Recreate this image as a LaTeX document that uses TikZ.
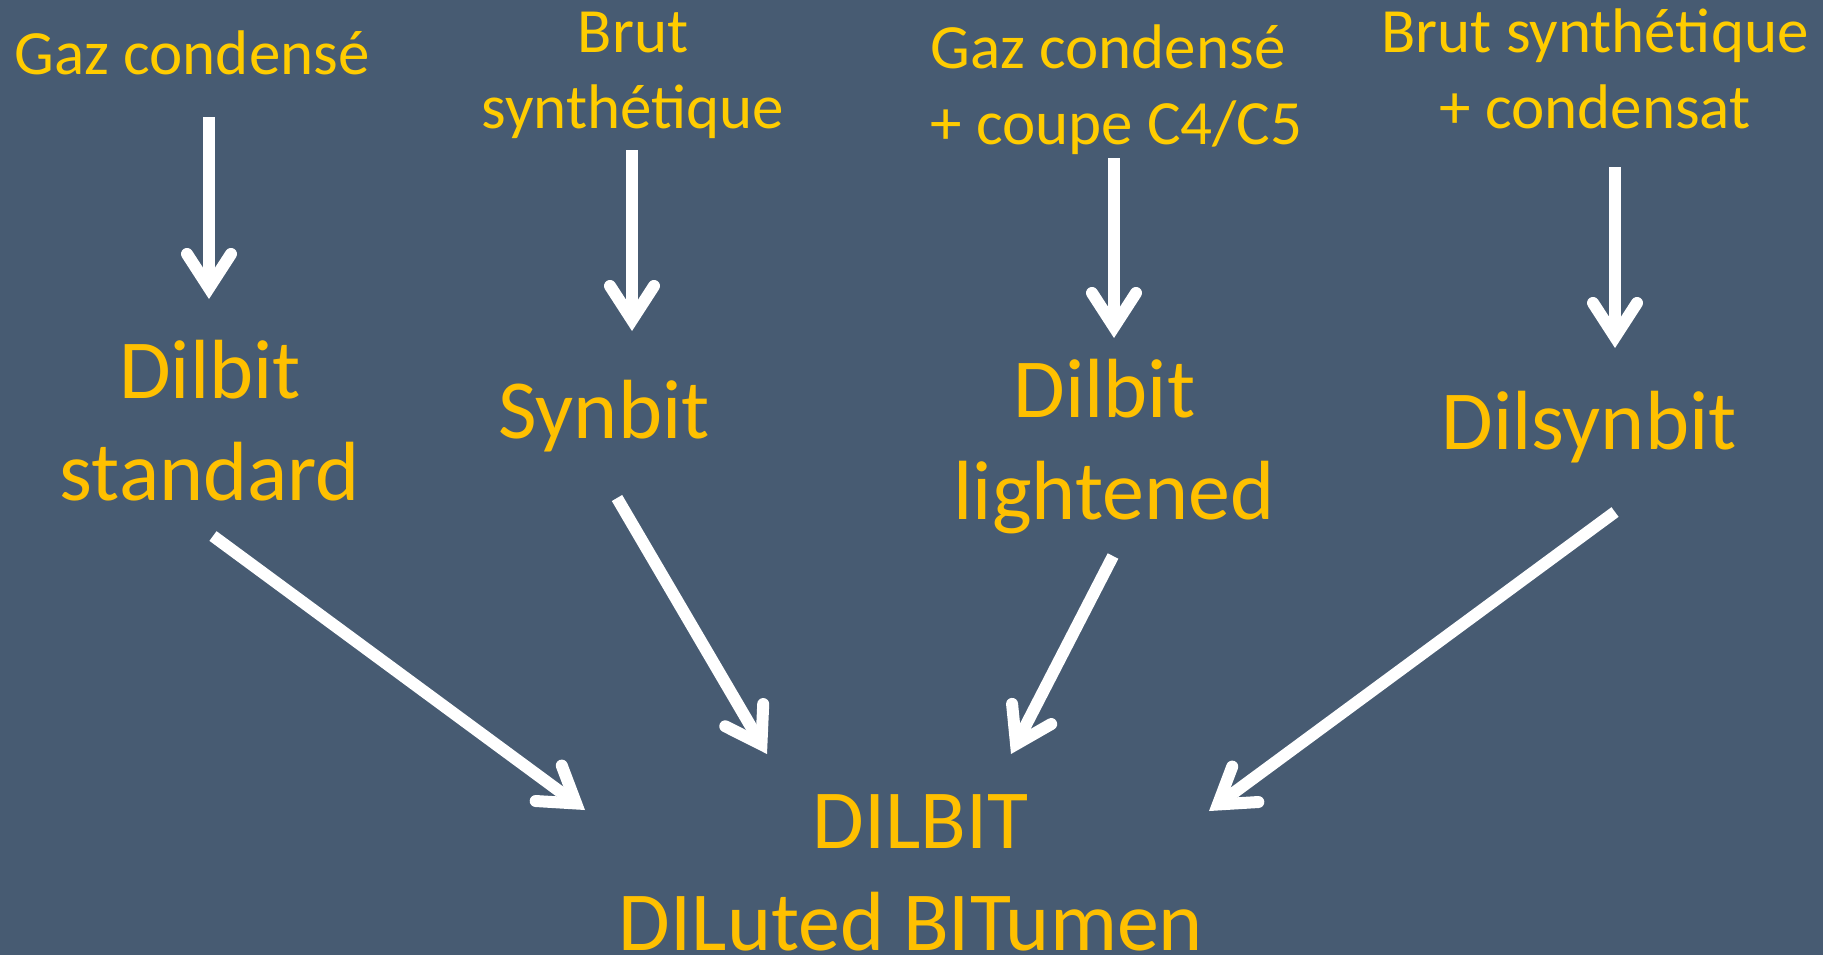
\documentclass[tikz,border=0pt]{standalone}
\usepackage{fontspec}
\setmainfont{Carlito}
\usetikzlibrary{arrows.meta}
\definecolor{slate}{HTML}{475B72}
\definecolor{goldA}{HTML}{FFC000}
\definecolor{goldB}{HTML}{FFCC00}
% stacked lines whose baseline is the first line's baseline
\newcommand\txtlines[2][c]{\begin{tabular}[t]{@{}#1@{}}#2\end{tabular}}
\begin{document}
\begin{tikzpicture}[x=0.5pt,y=-0.5pt,
  src/.style={inner sep=0pt, text=goldB, anchor=base,
    font={\fontsize{31.5pt}{38pt}\selectfont}},
  prod/.style={inner sep=0pt, text=goldA, anchor=base,
    font={\fontsize{42pt}{51pt}\selectfont}},
  flow/.style={draw=white, line width=6pt,
    -{Straight Barb[length=17pt,width=22pt,line cap=round,line join=miter]}}]
\fill[slate] (0,0) rectangle (1823,955);
\useasboundingbox (0,0) rectangle (1823,955);

% feedstocks
\node[src] (gc1) at (192,74) {Gaz condensé};
\node[src] (bs1) at (633,52) {\txtlines{Brut\\synthétique}};
\node[src, anchor=base west] (gc2) at (930,68)
  {\txtlines[l]{Gaz condensé\\+ coupe C4/C5}};
\node[src] (bs2) at (1595,52) {\txtlines{Brut synthétique\\+ condensat}};

% blends
\node[prod] (dil1) at (210,398) {\txtlines{Dilbit\\standard}};
\node[prod] (syn) at (604,438) {Synbit};
\node[prod] (dil2) at (1114,417) {\txtlines{Dilbit\kern0.226em\\lightened}};
\node[prod] (dsy) at (1589,449) {Dilsynbit};

% common product
\node[prod] (fin) at (911,848) {\txtlines{\kern0.226em DILBIT\\DILuted BITumen}};

% connector end points
\coordinate (gc1-out) at (209,117);  \coordinate (dil1-in) at (209,299);
\coordinate (bs1-out) at (632,150);  \coordinate (syn-in)  at (632,331);
\coordinate (gc2-out) at (1114,158); \coordinate (dil2-in) at (1114,338);
\coordinate (bs2-out) at (1615,167); \coordinate (dsy-in)  at (1615,348);
\coordinate (dil1-out) at (213,536); \coordinate (fin-a) at (585,810);
\coordinate (syn-out)  at (617,498); \coordinate (fin-b) at (767,754);
\coordinate (dil2-out) at (1113,556);\coordinate (fin-c) at (1011,754);
\coordinate (dsy-out)  at (1615,512);\coordinate (fin-d) at (1209,811);

\draw[flow] (gc1-out) -- (dil1-in);
\draw[flow] (bs1-out) -- (syn-in);
\draw[flow] (gc2-out) -- (dil2-in);
\draw[flow] (bs2-out) -- (dsy-in);
\draw[flow] (dil1-out) -- (fin-a);
\draw[flow] (syn-out) -- (fin-b);
\draw[flow] (dil2-out) -- (fin-c);
\draw[flow] (dsy-out) -- (fin-d);
\end{tikzpicture}
\end{document}
